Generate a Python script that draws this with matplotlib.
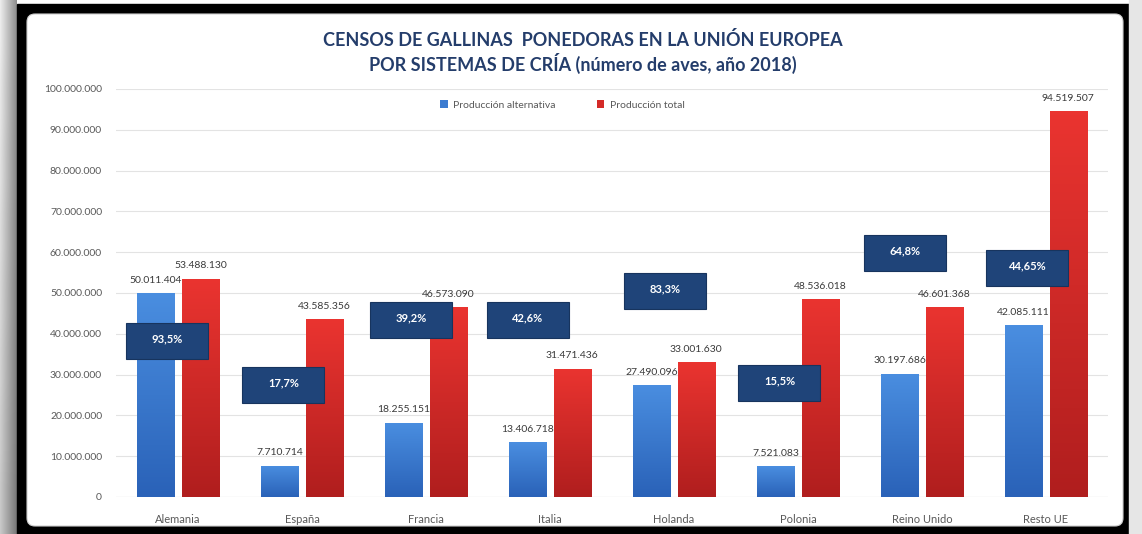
import numpy as np
import matplotlib
matplotlib.use("Agg")
import matplotlib.pyplot as plt
from matplotlib.patches import Rectangle, FancyBboxPatch
from matplotlib.colors import LinearSegmentedColormap

plt.rcParams['font.family'] = ['Lato', 'DejaVu Sans']

# data
paises = ['Alemania', 'España', 'Francia', 'Italia', 'Holanda', 'Polonia', 'Reino Unido', 'Resto UE']
alternativa = [50011404, 7710714, 18255151, 13406718, 27490096, 7521083, 30197686, 42085111]
total = [53488130, 43585356, 46573090, 31471436, 33001630, 48536018, 46601368, 94519507]
porcentajes = ['93,5%', '17,7%', '39,2%', '42,6%', '83,3%', '15,5%', '64,8%', '44,65%']
yticks = [0, 10000000, 20000000, 30000000, 40000000, 50000000, 60000000, 70000000, 80000000, 90000000, 100000000]

# where the navy boxes sit (category offset, height)
box_pos = [(-0.09, 38.2e6), (0.85, 27.5e6), (1.88, 43.4e6), (2.82, 43.4e6),
           (3.93, 50.5e6), (4.85, 27.9e6), (5.86, 59.8e6), (6.85, 56.1e6)]

W, H = 1142, 534
fig = plt.figure(figsize=(W / 100, H / 100), dpi=100)

# frame around the chart (screenshot look)
bg = fig.add_axes([0, 0, 1, 1])
bg.set_xlim(0, W)
bg.set_ylim(H, 0)
bg.axis('off')
grad = np.linspace(0.93, 0.55, 64).reshape(1, -1)
grad = np.repeat(grad, 8, axis=0) * np.linspace(1.0, 0.85, 8).reshape(-1, 1)
bg.imshow(grad, cmap='gray', vmin=0, vmax=1, extent=[0, 17, H, 0], aspect='auto')
bg.add_patch(Rectangle((17, 4), 1112, 530, color='black'))
bg.add_patch(Rectangle((1129, 0), 13, H, color='#e6e6e6'))
bg.add_patch(FancyBboxPatch((27, 14), 1096, 512, boxstyle='round,pad=0,rounding_size=8',
                            facecolor='white', edgecolor='#d0d0d0', lw=0.8))

ax = fig.add_axes([116 / W, 37 / H, 992 / W, 408 / H])
ax.set_facecolor('none')
x = np.arange(len(paises))
off = 0.18
bw = 0.30

blue_cm = LinearSegmentedColormap.from_list('b', ['#2a62b8', '#4a8ee0'])
red_cm = LinearSegmentedColormap.from_list('r', ['#b01e1e', '#ea3430'])

b1 = ax.bar(x - off, alternativa, bw, color='#3b7bd0', label='Producción alternativa', zorder=2)
b2 = ax.bar(x + off, total, bw, color='#d42a28', label='Producción total', zorder=2)

# vertical gradient on each bar
g = np.linspace(0, 1, 100).reshape(-1, 1)
for bars, cm in ((b1, blue_cm), (b2, red_cm)):
    for p in bars:
        x0, y0 = p.get_x(), p.get_y()
        im = ax.imshow(g, cmap=cm, origin='lower', aspect='auto', zorder=2.1,
                       extent=[x0, x0 + p.get_width(), y0, y0 + p.get_height()])
        im.set_clip_path(p)

def fmt(v):
    return f'{v:,}'.replace(',', '.')

for i in range(len(paises)):
    ax.annotate(fmt(alternativa[i]), (x[i] - off, alternativa[i]), xytext=(0, 6),
                textcoords='offset points', ha='center', va='bottom', fontsize=7.5,
                color='#3a3a3a', zorder=4)
    ax.annotate(fmt(total[i]), (x[i] + off, total[i]), xytext=(0, 6),
                textcoords='offset points', ha='center', va='bottom', fontsize=7.5,
                color='#3a3a3a', zorder=4)

# percentage boxes
for (bx, by), txt in zip(box_pos, porcentajes):
    ax.add_patch(Rectangle((bx - 0.33, by - 4.4e6), 0.66, 8.8e6, facecolor='#1f4479',
                           edgecolor='#17345e', lw=0.8, zorder=5))
    ax.text(bx, by + 0.6e6, txt, ha='center', va='center', color='white', fontsize=8,
            fontweight='bold', zorder=6)

ax.set_xlim(-0.5, len(paises) - 0.5)
ax.set_ylim(0, 100000000)
ax.set_yticks(yticks)
ax.set_yticklabels([fmt(v) for v in yticks], fontsize=7.5, color='#595959')
ax.set_xticks(x)
ax.set_xticklabels(paises, fontsize=8, color='#595959')
ax.tick_params(axis='y', length=0, pad=10)
ax.tick_params(axis='x', length=0, pad=12)
ax.grid(axis='y', color='#e3e3e3', lw=0.8, zorder=0)
for s in ax.spines.values():
    s.set_visible(False)
ax.axhline(0, color='#d9d9d9', lw=0.8, zorder=1)

ax.legend(loc='upper center', bbox_to_anchor=(0.45, 0.995), ncol=2, frameon=False,
          fontsize=7.5, labelcolor='#595959', handlelength=0.7, handleheight=0.7,
          columnspacing=4, handletextpad=0.5)

fig.text(583 / W, 1 - 40 / H, 'CENSOS DE GALLINAS  PONEDORAS EN LA UNIÓN EUROPEA',
         ha='center', va='center', fontsize=13, fontweight='bold', color='#243d6b')
fig.text(583 / W, 1 - 63 / H, 'POR SISTEMAS DE CRÍA (número de aves, año 2018)',
         ha='center', va='center', fontsize=13, fontweight='bold', color='#243d6b')

fig.savefig('out.png', dpi=100)
